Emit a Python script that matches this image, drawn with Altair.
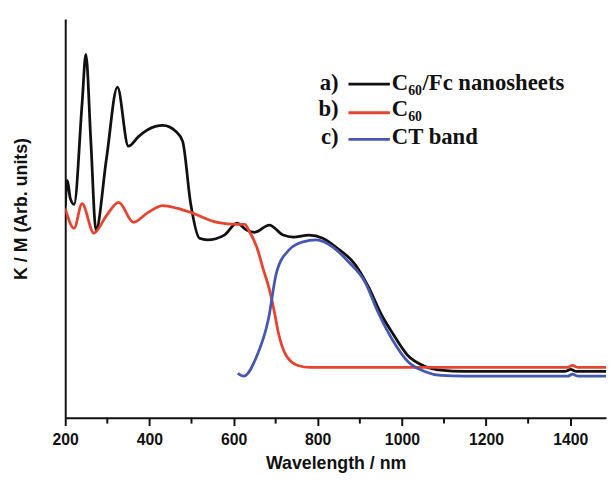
import altair as alt
import pandas as pd

# ---- data (wavelength in nm, K/M in arbitrary units) ----
black_nm = [200, 205, 212, 221, 240, 249, 261, 273, 298, 324, 350, 374, 397, 432, 463, 479,
            498, 519, 538, 578, 608, 632, 650, 685, 718, 742, 779, 812, 843, 889, 920, 953,
            976, 1014, 1054, 1093, 1147, 1387, 1401, 1415, 1490]
black_v = [53.0, 59.5, 55.0, 53.5, 78.7, 91.1, 69.0, 47.0, 65.0, 82.9, 68.1, 70.5, 72.3, 73.3, 71.8, 69.3,
           53.7, 45.0, 44.6, 45.8, 48.8, 47.0, 46.5, 48.3, 45.8, 45.3, 45.8, 45.0, 42.8, 38.4, 32.9, 25.5,
           21.5, 15.6, 12.9, 11.9, 11.6, 11.6, 12.1, 11.6, 11.6]

red_nm = [200, 221, 240, 268, 298, 327, 362, 397, 432, 467, 498, 561, 608, 627, 636, 655,
          671, 685, 697, 706, 725, 753, 782, 1394, 1405, 1419, 1490]
red_v = [52.5, 47.5, 53.7, 46.3, 50.7, 54.0, 49.0, 51.5, 53.2, 52.5, 51.5, 49.0, 48.5, 48.5, 47.0, 42.8,
         37.1, 32.2, 26.5, 21.5, 15.6, 13.1, 12.6, 12.6, 13.1, 12.6, 12.6]

blue_nm = [610, 624, 653, 683, 702, 732, 765, 796, 836, 873, 913, 943, 976, 1014, 1054, 1093,
           1147, 1394, 1405, 1419, 1490]
blue_v = [11.1, 10.4, 14.9, 24.8, 36.4, 42.1, 44.1, 44.6, 42.8, 39.1, 33.9, 26.5, 19.8, 14.1, 11.6, 10.6,
          10.4, 10.4, 10.9, 10.4, 10.4]

series_names = ["C60/Fc nanosheets", "C60", "CT band"]
series_tags = ["a)", "b)", "c)"]
# legend label pieces: main text, subscript, rest
label_main = ["C", "C", "CT band"]
label_sub = ["60", "60", ""]
label_rest = ["/Fc nanosheets", "", ""]
series_colors = ["#111111", "#e8432e", "#4657b3"]

major_ticks = [200, 400, 600, 800, 1000, 1200, 1400]
minor_ticks = [300, 500, 700, 900, 1100, 1300]

rows = []
for name, xs, ys in zip(series_names, [black_nm, red_nm, blue_nm], [black_v, red_v, blue_v]):
    for i, (a, b) in enumerate(zip(xs, ys)):
        rows.append({"series": name, "nm": a, "km": b, "i": i})
df = pd.DataFrame(rows)

W, H = 548, 404
XMAX = 1485
SERIF = "Liberation Serif"

xscale = alt.Scale(domain=[200, XMAX], nice=False, zero=False)
yscale = alt.Scale(domain=[0, 100], nice=False, zero=False)

lines = alt.Chart(df).mark_line(strokeWidth=2.8, clip=True, interpolate="monotone").encode(
    x=alt.X("nm:Q", scale=xscale,
            axis=alt.Axis(values=major_ticks, format="d", title="Wavelength / nm", grid=False,
                          labelFont="Liberation Sans", labelFontSize=16, labelFontWeight="bold",
                          labelColor="#111111", labelPadding=6, labelFlush=False, labelOverlap=False,
                          tickSize=8, tickWidth=2, tickColor="#111111",
                          domainWidth=2, domainColor="#111111",
                          titleFont="Liberation Sans", titleFontSize=18, titleFontWeight="bold",
                          titleColor="#111111", titleY=51, titleBaseline="alphabetic")),
    y=alt.Y("km:Q", scale=yscale,
            axis=alt.Axis(title="K / M (Arb. units)", labels=False, ticks=False, grid=False,
                          domainWidth=2, domainColor="#111111",
                          titleFont="Liberation Sans", titleFontSize=18, titleFontWeight="bold",
                          titleColor="#111111", titleX=-44, titleY=192, titleAngle=270,
                          titleAlign="center", titleBaseline="middle")),
    color=alt.Color("series:N", scale=alt.Scale(domain=series_names, range=series_colors), legend=None),
    order="i:Q",
)

minor = alt.Chart(pd.DataFrame({"t": minor_ticks})).mark_rule(strokeWidth=2, color="#111111").encode(
    x=alt.X("t:Q", scale=xscale),
    y=alt.value(H),
    y2=alt.value(H + 6),
)

layers = [lines, minor]
line_y = [66, 95, 122]
text_y = [72, 98, 127]
for k in range(3):
    d = pd.DataFrame({"tag": [series_tags[k]], "main": [label_main[k]],
                      "sub": [label_sub[k]], "rest": [label_rest[k]]})
    common = dict(baseline="alphabetic", font=SERIF, fontWeight="bold", color="#111111")
    layers.append(alt.Chart(d).mark_text(align="right", fontSize=23, **common).encode(
        text="tag:N", x=alt.value(277), y=alt.value(text_y[k])))
    layers.append(alt.Chart(d).mark_rule(strokeWidth=2.8, color=series_colors[k]).encode(
        x=alt.value(287), x2=alt.value(329), y=alt.value(line_y[k])))
    layers.append(alt.Chart(d).mark_text(align="left", fontSize=23, **common).encode(
        text="main:N", x=alt.value(331), y=alt.value(text_y[k])))
    if label_sub[k]:
        layers.append(alt.Chart(d).mark_text(align="left", fontSize=14, **common).encode(
            text="sub:N", x=alt.value(347.5), y=alt.value(text_y[k] + 5)))
    if label_rest[k]:
        layers.append(alt.Chart(d).mark_text(align="left", fontSize=23, **common).encode(
            text="rest:N", x=alt.value(362), y=alt.value(text_y[k])))

chart = alt.layer(*layers).properties(
    width=W, height=H,
    autosize=alt.AutoSizeParams(type="none"),
    padding={"left": 58, "top": 8, "right": 1, "bottom": 60},
    background="white",
).configure_view(stroke=None)

chart.save("out.html", embed_options={"renderer": "svg", "actions": False})
